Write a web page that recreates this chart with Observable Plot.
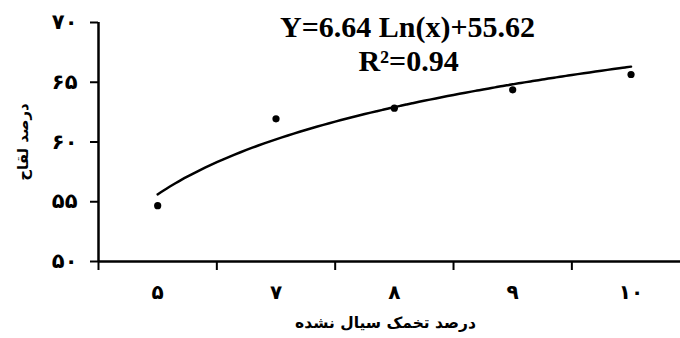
<!DOCTYPE html>
<html>
<head>
<meta charset="utf-8">
<script src="https://cdn.jsdelivr.net/npm/d3@7"></script>
<script src="https://cdn.jsdelivr.net/npm/@observablehq/plot@0.6"></script>
<style>
  html, body { margin: 0; padding: 0; background: #fff; }
</style>
</head>
<body>
<div id="chart"></div>
<script>
// Data
const xIndex = [1, 2, 3, 4, 5];
const xLabels = ["۵", "۷", "۸", "۹", "۱۰"];
const fertility = [54.67, 61.94, 62.83, 64.37, 65.65];
const yTicks = [50, 55, 60, 65, 70];
const yTickLabels = ["۵۰", "۵۵", "۶۰", "۶۵", "۷۰"];
const bandEdges = [0.5, 1.5, 2.5, 3.5, 4.5];
// Trend line stated on the chart: Y = 6.64 Ln(x) + 55.62
const trendA = 6.64, trendB = 55.62;
const equationText = "Y=6.64 Ln(x)+55.62";
const r2Text = "R²=0.94";
const yTitle = "درصد لقاح";
const xTitle = "درصد تخمک سیال نشده";

const points = xIndex.map((x, i) => ({x, y: fertility[i]}));
const trend = d3.range(1, 5.0001, 0.05).map(x => ({x, y: trendA * Math.log(x) + trendB}));

const persian = "'DejaVu Sans', sans-serif";
const serif = "'Liberation Serif', 'Times New Roman', serif";

const chart = Plot.plot({
  width: 680,
  height: 338,
  marginLeft: 98,
  marginRight: 0,
  marginTop: 22,
  marginBottom: 77,
  style: {background: "#fff", color: "#000", fontFamily: persian},
  x: {domain: [0.5, 5.418], axis: null},
  y: {domain: [50, 70], axis: null},
  marks: [
    Plot.axisY(yTicks, {
      tickSize: 8, tickPadding: 13, strokeWidth: 2,
      tickFormat: d => yTickLabels[yTicks.indexOf(d)],
      fontSize: 21, fontWeight: "bold", label: null
    }),
    Plot.axisX(bandEdges, {
      tickSize: 9, strokeWidth: 2, tickFormat: () => "", label: null
    }),
    Plot.axisX(xIndex, {
      tickSize: 0, tickPadding: 23,
      tickFormat: d => xLabels[d - 1],
      fontSize: 20, fontWeight: "bold", label: null
    }),
    Plot.ruleY([50], {stroke: "#000", strokeWidth: 2.5}),
    Plot.ruleX([0.5], {stroke: "#000", strokeWidth: 2.5}),
    Plot.line(trend, {x: "x", y: "y", stroke: "#000", strokeWidth: 2.5, curve: "natural"}),
    Plot.dot(points, {x: "x", y: "y", r: 3.6, fill: "#000", stroke: "none"}),
    Plot.text([equationText], {
      text: d => d, frameAnchor: "top", dx: 18, dy: -7, lineAnchor: "top",
      fontFamily: serif, fontWeight: "bold", fontSize: 30
    }),
    Plot.text([r2Text], {
      text: d => d, frameAnchor: "top", dx: 19, dy: 27, lineAnchor: "top",
      fontFamily: serif, fontWeight: "bold", fontSize: 30
    }),
    Plot.text([yTitle], {
      text: d => d, frameAnchor: "left", textAnchor: "middle", dx: -75, rotate: -90,
      fontSize: 15, fontWeight: "bold"
    }),
    Plot.text([xTitle], {
      text: d => d, frameAnchor: "bottom", dx: -4, dy: 66,
      fontSize: 15.5, fontWeight: "bold"
    })
  ]
});
document.getElementById("chart").appendChild(chart);
</script>
</body>
</html>
